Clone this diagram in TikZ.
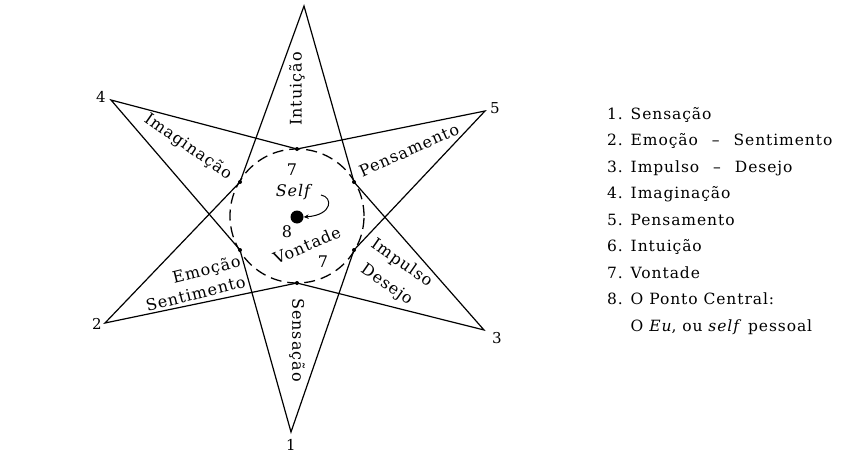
\documentclass[tikz,border=0pt]{standalone}
\usepackage{fontspec}
\setmainfont{DejaVu Serif}[LetterSpace=6]
\usetikzlibrary{arrows.meta}
\begin{document}
\begin{tikzpicture}[x=1pt,y=-1pt,
  starline/.style={line width=1.2pt, line join=miter},
  ring/.style={line width=1.3pt, dash pattern=on 11pt off 6pt},
  lbl/.style={font=\fontsize{16}{18}\selectfont, inner sep=0pt},
  leg/.style={font=\fontsize{15.5}{18}\selectfont, inner sep=0pt, anchor=base west},
  num/.style={font=\fontsize{15}{18}\selectfont, inner sep=0pt},
  arr/.style={line width=1pt, -{Stealth[length=5pt,width=4.5pt]}},
]
\useasboundingbox (0,0) rectangle (860,455);
% circle points
\coordinate (c) at (297,216);
\coordinate (p90) at (297,149);
\coordinate (p30) at (354,182);
\coordinate (p150) at (240,182);
\coordinate (p210) at (240,250);
\coordinate (p270) at (297,283);
\coordinate (p330) at (354,250);
% tips
\coordinate (t6) at (304,6);
\coordinate (t5) at (485,111);
\coordinate (t4) at (111,100);
\coordinate (t2) at (105,323);
\coordinate (t3) at (484,330);
\coordinate (t1) at (291,432);
% star
\draw[starline] (p150) -- (t6) -- (p30);
\draw[starline] (p90) -- (t5) -- (p330);
\draw[starline] (p90) -- (t4) -- (p210);
\draw[starline] (p150) -- (t2) -- (p270);
\draw[starline] (p30) -- (t3) -- (p270);
\draw[starline] (p210) -- (t1) -- (p330);
% dashed circle
\draw[ring] (c) circle[radius=67pt];
\foreach \p in {p90,p30,p150,p210,p270,p330} \fill (\p) circle[radius=2pt];
% centre
\node[circle, fill, inner sep=0pt, minimum size=13pt] (dot) at (297,217) {};
\node[lbl, font=\fontsize{16}{18}\selectfont\itshape] (self) at (293,192) {Self};
\coordinate (a0) at (321,195);
\draw[arr] (a0) .. controls (333,197) and (333,215) .. (dot.east);
\node[lbl] (n7a) at (292,170) {7};
\node[lbl] (n8) at (287,232) {8};
\node[lbl] (n7b) at (323,262) {7};
% petal labels
\node[lbl, rotate=90] (intu) at (297,89) {Intuição};
\node[lbl, rotate=-35] (imag) at (188,147) {Imaginação};
\node[lbl, rotate=24] (pens) at (409,150) {Pensamento};
\node[lbl, rotate=-35, align=center, font=\fontsize{16}{26}\selectfont] (impu) at (394,274) {Impulso\\Desejo};
\node[lbl, rotate=14, align=right, font=\fontsize{16}{21}\selectfont] (emoc) at (193,283) {Emoção\\Sentimento};
\node[lbl, rotate=-90] (sens) at (297,340) {Sensação};
\node[lbl, rotate=23] (vont) at (307,245) {Vontade};
% tip numbers
\node[num] (n4) at (101,97) {4};
\node[num] (n5) at (495,108) {5};
\node[num] (n2) at (97,324) {2};
\node[num] (n3) at (497,338) {3};
\node[num] (n1) at (291,445) {1};
% legend
\node[leg] (l1) at (607,119) {1. Sensação};
\node[leg] (l2) at (607,145.5) {2. Emoção\hspace{0.9em}–\hspace{0.9em}Sentimento};
\node[leg] (l3) at (607,172) {3. Impulso\hspace{0.9em}–\hspace{0.9em}Desejo};
\node[leg] (l4) at (607,198.5) {4. Imaginação};
\node[leg] (l5) at (607,225) {5. Pensamento};
\node[leg] (l6) at (607,251.5) {6. Intuição};
\node[leg] (l7) at (607,278) {7. Vontade};
\node[leg] (l8) at (607,304.5) {8. O Ponto Central:};
\node[leg] (l9) at (607,331) {\phantom{8. }O \textit{Eu}, ou \textit{self} pessoal};
\end{tikzpicture}
\end{document}
